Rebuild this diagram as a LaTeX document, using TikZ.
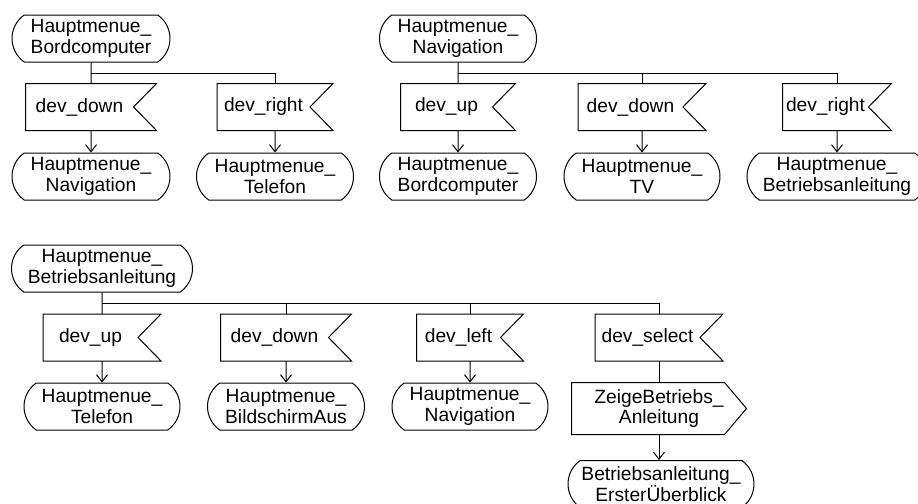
\documentclass[tikz,border=0pt]{standalone}
\usepackage{fontspec}
\setmainfont{Liberation Sans}
\usetikzlibrary{shapes.misc,arrows.meta}

\tikzset{
  sdlstate/.style={draw, rounded rectangle, rounded rectangle arc length=110,
    minimum height=23.5pt, minimum width=#1, inner sep=1pt, align=center},
  sdlstate/.default=80.5pt,
  sdlinput/.style={minimum width=#1, minimum height=23pt, inner sep=0pt,
    execute at end node={\hspace{11.5pt}}},
  sdloutput/.style={minimum width=87pt, minimum height=25.5pt, inner sep=0pt, align=center},
  >={Straight Barb[length=3.5pt,width=5.5pt]}
}

\newcommand{\sdlinframe}[1]{\draw (#1.north west) -- (#1.north east) -- ([xshift=-11.5pt]#1.east) -- (#1.south east) -- (#1.south west) -- cycle;}
\newcommand{\sdloutframe}[1]{\draw (#1.north west) -- ([xshift=-11pt]#1.north east) -- (#1.east) -- ([xshift=-11pt]#1.south east) -- (#1.south west) -- cycle;}

\begin{document}
\begin{tikzpicture}[x=0.5pt,y=-0.5pt,line width=0.5pt,font=\fontsize{9.6}{10.4}\selectfont]
\useasboundingbox (0,0) rectangle (918,504);
\clip (0,0) rectangle (918,504);

%%%%%%%%%%%%%%%%%%%%%%%%%%%%%%%%%%%%%%
\node[sdlstate=81pt] at (91,38.5) (BC) {Hauptmenue\_\\Bordcomputer};
\node[sdlinput=65pt] at (91,107) (BC_in1) {dev\_down};
\node[sdlinput=57.5pt] at (275,107) (BC_in2) {dev\_right};
\node[sdlstate=81pt] at (91,176.5) (BC_to1) {Hauptmenue\_\\Navigation};
\node[sdlstate] at (275,176.5) (BC_to2) {Hauptmenue\_\\Telefon};
\coordinate (BC_br) at (91,73);

\draw (BC) -- (BC_in1);
\draw (BC_br) -| (BC_in2);
\draw[->] (BC_in1) -- (BC_to1);
\draw[->] (BC_in2) -- (BC_to2);

%%%%%%%%%%%%%%%%%%%%%%%%%%%%%%%%%%%%%%
\node[sdlstate] at (458,38.5) (NV) {Hauptmenue\_\\Navigation};
\node[sdlinput=57pt] at (458,107) (NV_in1) {dev\_up};
\node[sdlinput=63.5pt] at (642,107) (NV_in2) {dev\_down};
\node[sdlinput=54pt] at (837,107) (NV_in3) {dev\_right};
\node[sdlstate] at (458,176.5) (NV_to1) {Hauptmenue\_\\Bordcomputer};
\node[sdlstate=80pt] at (642,176.5) (NV_to2) {Hauptmenue\_\\TV};
\node[sdlstate=92pt] at (837,176.5) (NV_to3) {Hauptmenue\_\\Betriebsanleitung};
\coordinate (NV_br) at (458,73);

\draw (NV) -- (NV_in1);
\draw (NV_br) -| (NV_in2);
\draw (NV_br) -| (NV_in3);
\draw[->] (NV_in1) -- (NV_to1);
\draw[->] (NV_in2) -- (NV_to2);
\draw[->] (NV_in3) -- (NV_to3);

%%%%%%%%%%%%%%%%%%%%%%%%%%%%%%%%%%%%%%
\node[sdlstate=92.5pt] at (102,268.5) (BA) {Hauptmenue\_\\Betriebsanleitung};
\node[sdlinput=58.5pt] at (102,337.5) (BA_in1) {dev\_up};
\node[sdlinput=65pt] at (286,337.5) (BA_in2) {dev\_down};
\node[sdlinput=53pt] at (470,337.5) (BA_in3) {dev\_left};
\node[sdlinput=63.5pt] at (659,337.5) (BA_in4) {dev\_select};
\node[sdlstate=80pt] at (102,406.5) (BA_to1) {Hauptmenue\_\\Telefon};
\node[sdlstate] at (286,406.5) (BA_to2) {Hauptmenue\_\\BildschirmAus};
\node[sdlstate=80pt] at (470,406.5) (BA_to3) {Hauptmenue\_\\Navigation};
\node[sdloutput] at (659,408.5) (BA_out) {ZeigeBetriebs\_\\Anleitung};
\node[sdlstate=95pt] at (661,484) (BA_to4) {Betriebsanleitung\_\\ErsterÜberblick};
\coordinate (BA_br) at (102,303);

\draw (BA) -- (BA_in1);
\draw (BA_br) -| (BA_in2);
\draw (BA_br) -| (BA_in3);
\draw (BA_br) -| (BA_in4);
\draw[->] (BA_in1) -- (BA_to1);
\draw[->] (BA_in2) -- (BA_to2);
\draw[->] (BA_in3) -- (BA_to3);
\draw (BA_in4) -- (BA_out);
\draw[->] (BA_out) -- (BA_to4.north -| BA_out);

\foreach \n in {BC_in1,BC_in2,NV_in1,NV_in2,NV_in3,BA_in1,BA_in2,BA_in3,BA_in4} {\sdlinframe{\n}}
\sdloutframe{BA_out}

\end{tikzpicture}
\end{document}
